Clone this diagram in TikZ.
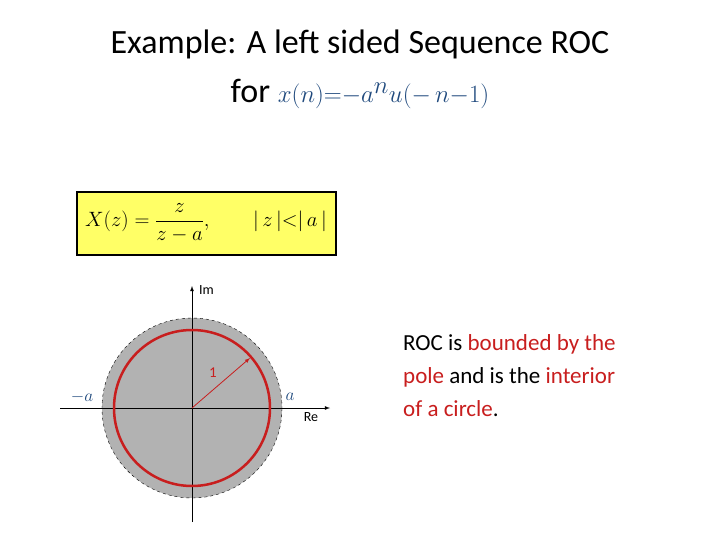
\documentclass[tikz,border=0pt]{standalone}
\usepackage{amsmath}
\usepackage{fontspec}
\setmainfont{Carlito}
\newfontfamily\serifm{Liberation Serif}
\definecolor{tblue}{RGB}{31,73,125}
\definecolor{rred}{RGB}{200,30,30}
\definecolor{fyel}{RGB}{255,255,102}
\begin{document}
\begin{tikzpicture}[x=1pt,y=-1pt,
  lbl/.style={inner sep=0pt},
  ax/.style={thick,-latex}]
\useasboundingbox (0,0) rectangle (720,540);
\node[lbl,font=\fontsize{34}{38}\selectfont] (t1) at (360,44) {Example: A left sided Sequence ROC};
\node[lbl,font=\fontsize{34}{38}\selectfont] (t2) at (360,94) {for {\color{tblue}$x(n){=}{-}a^n u(-\,n{-}1)$}};
\node[draw,very thick,fill=fyel,minimum width=259pt,minimum height=63pt,inner sep=0pt] (box) at (206.5,223.5) {};
\node[lbl,font=\fontsize{20}{22}\selectfont] (f) at (206,223) {$X(z)=\dfrac{z}{z-a},\qquad |\,z\,|{<}|\,a\,|$};
\coordinate (o) at (192,408);
\fill[gray!60] (o) circle (90);
\draw[dashed,thin] (o) circle (90);
\coordinate (xl) at (60,408);
\coordinate (xr) at (330,408);
\coordinate (yb) at (192,522);
\coordinate (yt) at (192,286);
\draw[ax] (xl) -- (xr);
\draw[ax] (yb) -- (yt);
\draw[rred,line width=2.5pt] (o) circle (78);
\coordinate (p) at (250,358);
\draw[rred,thick,-latex] (o) -- (p);
\node[lbl,font=\fontsize{15}{17}\selectfont,text=rred] (one) at (213,373) {1};
\node[lbl,font=\fontsize{14}{16}\selectfont,anchor=west] (im) at (199,290) {Im};
\node[lbl,font=\fontsize{14}{16}\selectfont] (re) at (311,417) {Re};
\node[lbl,font=\fontsize{17}{19}\selectfont,text=tblue] (ma) at (82,397) {$-a$};
\node[lbl,font=\fontsize{17}{19}\selectfont,text=tblue] (pa) at (290,397) {$a$};
\node[lbl,anchor=north west,align=left,font=\fontsize{23}{33}\selectfont] (txt) at (403,334)
 {ROC is {\color{rred}bounded by the}\\{\color{rred}pole} and is the {\color{rred}interior}\\{\color{rred}of a circle}.};
\end{tikzpicture}
\end{document}
